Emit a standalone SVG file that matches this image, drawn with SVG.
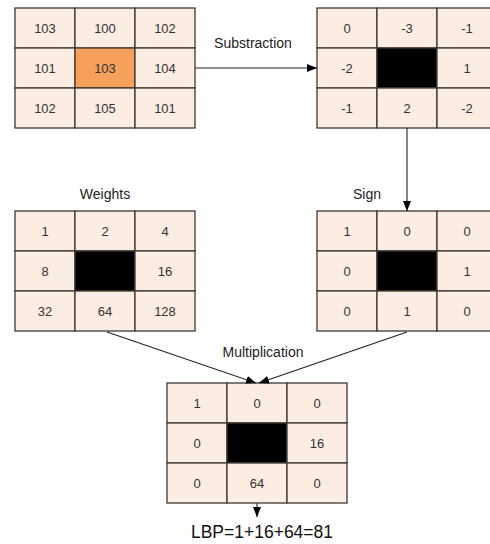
<svg xmlns="http://www.w3.org/2000/svg" width="490" height="544" viewBox="0 0 490 544">
  <style>
    .cell { fill: #fcede3; stroke: #3d3834; stroke-width: 1.3; }
    .hot { fill: #f5a05b; stroke: #3d3834; stroke-width: 1.3; }
    .blk { fill: #000000; stroke: #3d3834; stroke-width: 1.3; }
    .num { font-family: "Liberation Sans", Arial, sans-serif; font-size: 13px; fill: #333333; text-anchor: middle; }
    .lbl { font-family: "Liberation Sans", Arial, sans-serif; font-size: 14px; fill: #222222; text-anchor: middle; }
    .res { font-family: "Liberation Sans", Arial, sans-serif; font-size: 17.5px; fill: #111111; text-anchor: middle; }
    .edge { fill: none; stroke: #222222; stroke-width: 1.1; }
  </style>
  <defs>
    <marker id="arrow" markerWidth="10" markerHeight="8" refX="10" refY="4" orient="auto" markerUnits="userSpaceOnUse">
      <path d="M0,0 L10,4 L0,8 Z" fill="#000000"/>
    </marker>
  </defs>

  <rect width="490" height="544" fill="#ffffff"/>

  <!-- input neighbourhood -->
  <g id="input">
    <rect class="cell" x="15" y="8" width="60" height="40"/>
    <rect class="cell" x="75" y="8" width="60" height="40"/>
    <rect class="cell" x="135" y="8" width="60" height="40"/>
    <rect class="cell" x="15" y="48" width="60" height="40"/>
    <rect class="hot" x="75" y="48" width="60" height="40"/>
    <rect class="cell" x="135" y="48" width="60" height="40"/>
    <rect class="cell" x="15" y="88" width="60" height="40"/>
    <rect class="cell" x="75" y="88" width="60" height="40"/>
    <rect class="cell" x="135" y="88" width="60" height="40"/>
    <text class="num" x="45" y="32.5">103</text>
    <text class="num" x="105" y="32.5">100</text>
    <text class="num" x="165" y="32.5">102</text>
    <text class="num" x="45" y="72.5">101</text>
    <text class="num" x="105" y="72.5" fill="#4a2a10">103</text>
    <text class="num" x="165" y="72.5">104</text>
    <text class="num" x="45" y="112.5">102</text>
    <text class="num" x="105" y="112.5">105</text>
    <text class="num" x="165" y="112.5">101</text>
  </g>

  <!-- differences to the centre -->
  <g id="difference">
    <rect class="cell" x="317" y="8" width="60" height="40"/>
    <rect class="cell" x="377" y="8" width="60" height="40"/>
    <rect class="cell" x="437" y="8" width="60" height="40"/>
    <rect class="cell" x="317" y="48" width="60" height="40"/>
    <rect class="blk" x="377" y="48" width="60" height="40"/>
    <rect class="cell" x="437" y="48" width="60" height="40"/>
    <rect class="cell" x="317" y="88" width="60" height="40"/>
    <rect class="cell" x="377" y="88" width="60" height="40"/>
    <rect class="cell" x="437" y="88" width="60" height="40"/>
    <text class="num" x="347" y="32.5">0</text>
    <text class="num" x="407" y="32.5">-3</text>
    <text class="num" x="467" y="32.5">-1</text>
    <text class="num" x="347" y="72.5">-2</text>
    <text class="num" x="467" y="72.5">1</text>
    <text class="num" x="347" y="112.5">-1</text>
    <text class="num" x="407" y="112.5">2</text>
    <text class="num" x="467" y="112.5">-2</text>
  </g>

  <!-- weights -->
  <g id="weights">
    <text class="lbl" x="105" y="199">Weights</text>
    <rect class="cell" x="15" y="211" width="60" height="40"/>
    <rect class="cell" x="75" y="211" width="60" height="40"/>
    <rect class="cell" x="135" y="211" width="60" height="40"/>
    <rect class="cell" x="15" y="251" width="60" height="40"/>
    <rect class="blk" x="75" y="251" width="60" height="40"/>
    <rect class="cell" x="135" y="251" width="60" height="40"/>
    <rect class="cell" x="15" y="291" width="60" height="40"/>
    <rect class="cell" x="75" y="291" width="60" height="40"/>
    <rect class="cell" x="135" y="291" width="60" height="40"/>
    <text class="num" x="45" y="235.5">1</text>
    <text class="num" x="105" y="235.5">2</text>
    <text class="num" x="165" y="235.5">4</text>
    <text class="num" x="45" y="275.5">8</text>
    <text class="num" x="165" y="275.5">16</text>
    <text class="num" x="45" y="315.5">32</text>
    <text class="num" x="105" y="315.5">64</text>
    <text class="num" x="165" y="315.5">128</text>
  </g>

  <!-- sign -->
  <g id="sign">
    <text class="lbl" x="367" y="199">Sign</text>
    <rect class="cell" x="317" y="211" width="60" height="40"/>
    <rect class="cell" x="377" y="211" width="60" height="40"/>
    <rect class="cell" x="437" y="211" width="60" height="40"/>
    <rect class="cell" x="317" y="251" width="60" height="40"/>
    <rect class="blk" x="377" y="251" width="60" height="40"/>
    <rect class="cell" x="437" y="251" width="60" height="40"/>
    <rect class="cell" x="317" y="291" width="60" height="40"/>
    <rect class="cell" x="377" y="291" width="60" height="40"/>
    <rect class="cell" x="437" y="291" width="60" height="40"/>
    <text class="num" x="347" y="235.5">1</text>
    <text class="num" x="407" y="235.5">0</text>
    <text class="num" x="467" y="235.5">0</text>
    <text class="num" x="347" y="275.5">0</text>
    <text class="num" x="467" y="275.5">1</text>
    <text class="num" x="347" y="315.5">0</text>
    <text class="num" x="407" y="315.5">1</text>
    <text class="num" x="467" y="315.5">0</text>
  </g>

  <!-- product -->
  <g id="product">
    <rect class="cell" x="167" y="383" width="60" height="40"/>
    <rect class="cell" x="227" y="383" width="60" height="40"/>
    <rect class="cell" x="287" y="383" width="60" height="40"/>
    <rect class="cell" x="167" y="423" width="60" height="40"/>
    <rect class="blk" x="227" y="423" width="60" height="40"/>
    <rect class="cell" x="287" y="423" width="60" height="40"/>
    <rect class="cell" x="167" y="463" width="60" height="40"/>
    <rect class="cell" x="227" y="463" width="60" height="40"/>
    <rect class="cell" x="287" y="463" width="60" height="40"/>
    <text class="num" x="197" y="407.5">1</text>
    <text class="num" x="257" y="407.5">0</text>
    <text class="num" x="317" y="407.5">0</text>
    <text class="num" x="197" y="447.5">0</text>
    <text class="num" x="317" y="447.5">16</text>
    <text class="num" x="197" y="487.5">0</text>
    <text class="num" x="257" y="487.5">64</text>
    <text class="num" x="317" y="487.5">0</text>
  </g>

  <g id="result">
    <text class="res" x="262" y="538">LBP=1+16+64=81</text>
  </g>

  <!-- connectors -->
  <g id="connectors">
    <path class="edge" d="M195,68 L317,68" marker-end="url(#arrow)"/>
    <text class="lbl" x="253" y="48">Substraction</text>
    <path class="edge" d="M407,128 L407,211" marker-end="url(#arrow)"/>
    <path class="edge" d="M107,332 L256,383" marker-end="url(#arrow)"/>
    <path class="edge" d="M407,332 L259,383" marker-end="url(#arrow)"/>
    <text class="lbl" x="263" y="357">Multiplication</text>
    <path class="edge" d="M257,503 L257,517" marker-end="url(#arrow)"/>
  </g>
</svg>
